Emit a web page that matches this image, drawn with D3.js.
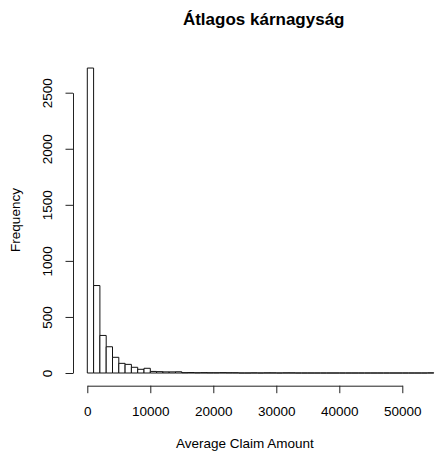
<!DOCTYPE html>
<html>
<head>
<meta charset="utf-8">
<script src="https://cdn.jsdelivr.net/npm/d3@7"></script>
<style>
  body { margin: 0; background: #fff; }
  text { font-family: "Liberation Sans", Arial, sans-serif; fill: #000; }
</style>
</head>
<body>
<div id="hist"></div>
<script>
// histogram bins, width 1000, 0 .. 55000
const binWidth = 1000;
const counts = [
  2720, 780, 335, 234, 140, 86, 77, 51, 33, 42,
  14, 12, 10, 10, 11,
  3, 4, 2, 3, 2, 2, 3, 2, 2,
  0, 0, 1, 0, 1, 1, 0, 1, 1,
  0, 0, 0, 0, 0, 0, 0, 0, 0, 0, 0, 0, 0, 0, 0, 0, 0, 0, 0, 0, 0,
  1
];
const xTicks = [0, 10000, 20000, 30000, 40000, 50000];
const yTicks = [0, 500, 1000, 1500, 2000, 2500];

const bins = counts.map((c, i) => ({x0: i * binWidth, x1: (i + 1) * binWidth, n: c}));

const width = 436, height = 451;

const svg = d3.select("#hist")
  .append("svg")
  .attr("width", width)
  .attr("height", height);

const x = d3.scaleLinear()
  .domain([0, 50000])
  .range([87.3, 402.3]);

const y = d3.scaleLinear()
  .domain([0, 2500])
  .range([373, 92.7]);

// bars as outlines so empty bins still show as a line (like R hist)
svg.selectAll("path.bar")
  .data(bins)
  .join("path")
  .attr("class", "bar")
  .attr("d", d => {
    const p = d3.path();
    p.moveTo(x(d.x0), y(0));
    p.lineTo(x(d.x0), y(d.n));
    p.lineTo(x(d.x1), y(d.n));
    p.lineTo(x(d.x1), y(0));
    p.closePath();
    return p.toString();
  })
  .attr("fill", "#fff")
  .attr("stroke", "#111")
  .attr("stroke-width", 1);

// x axis
const gx = svg.append("g")
  .attr("transform", "translate(0,385.7)")
  .call(d3.axisBottom(x).tickValues(xTicks).tickFormat(d3.format("d"))
    .tickSize(7.5).tickSizeOuter(0).tickPadding(13.4));
gx.select(".domain").attr("stroke", "#222");
gx.selectAll(".tick line").attr("stroke", "#222");
gx.selectAll(".tick text")
  .attr("font-size", "13.5px")
  .attr("font-family", "Liberation Sans, Arial, sans-serif")
  .attr("fill", "#000");

// y axis, labels rotated like R
const gy = svg.append("g")
  .attr("transform", "translate(73,0)")
  .call(d3.axisLeft(y).tickValues(yTicks).tickFormat(d3.format("d"))
    .tickSize(7.5).tickSizeOuter(0));
gy.select(".domain").attr("stroke", "#222");
gy.selectAll(".tick line").attr("stroke", "#222");
gy.selectAll(".tick text")
  .attr("transform", "rotate(-90)")
  .attr("x", 0)
  .attr("y", -20.9)
  .attr("dy", null)
  .attr("text-anchor", "middle")
  .attr("font-size", "13.5px")
  .attr("font-family", "Liberation Sans, Arial, sans-serif")
  .attr("fill", "#000");

// titles
svg.append("text")
  .attr("x", 263.7)
  .attr("y", 24.5)
  .attr("text-anchor", "middle")
  .attr("font-weight", "bold")
  .attr("font-size", "17px")
  .text("Átlagos kárnagyság");

svg.append("text")
  .attr("x", 244.8)
  .attr("y", 448)
  .attr("text-anchor", "middle")
  .attr("font-size", "13.5px")
  .text("Average Claim Amount");

svg.append("text")
  .attr("transform", "translate(20.4,220) rotate(-90)")
  .attr("text-anchor", "middle")
  .attr("font-size", "13.5px")
  .text("Frequency");
</script>
</body>
</html>
